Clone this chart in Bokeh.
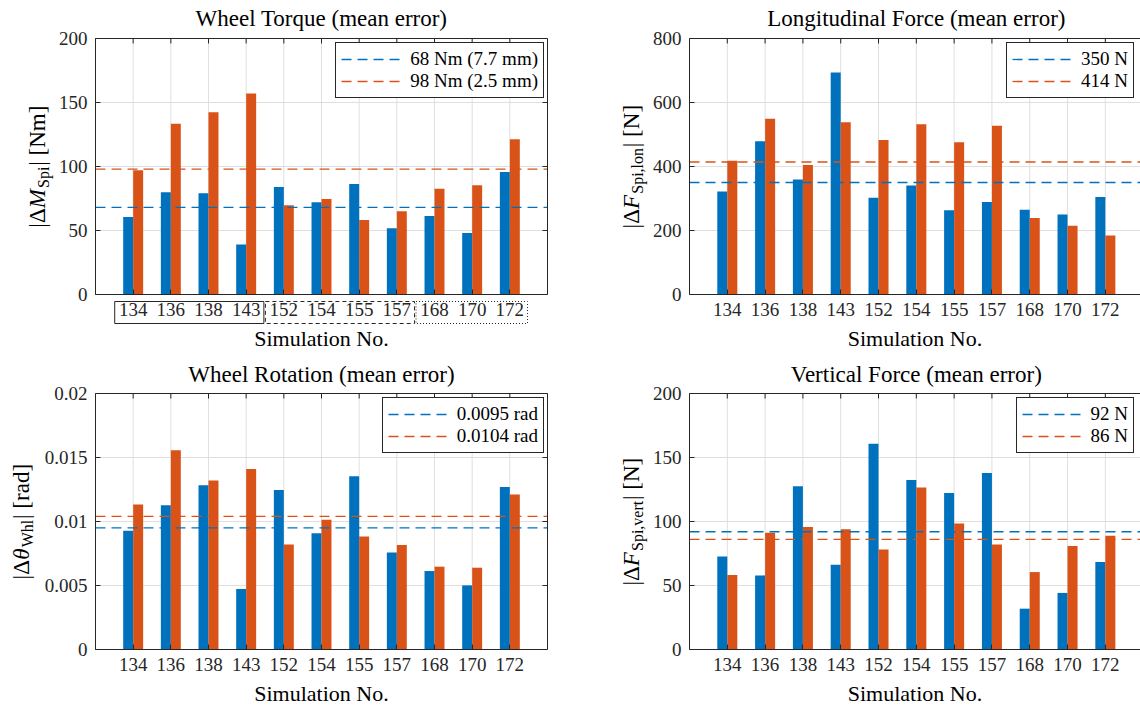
import numpy as np
from bokeh.plotting import figure
from bokeh.models import Range1d, FixedTicker, LinearAxis, Legend, LegendItem
from bokeh.core.properties import value
from bokeh.layouts import column, row
from bokeh.embed import file_html
from bokeh.resources import INLINE

# ---------------- data ----------------
sims = ["134", "136", "138", "143", "152", "154", "155", "157", "168", "170", "172"]

torque_blue = [60.6, 79.8, 79.1, 39.0, 84.0, 72.0, 86.3, 51.8, 61.4, 48.1, 95.7]
torque_orange = [97.0, 133.4, 142.3, 157.1, 69.7, 74.6, 58.3, 65.0, 82.7, 85.3, 121.2]
torque_means = [68, 98]
torque_legend = ["68 Nm (7.7 mm)", "98 Nm (2.5 mm)"]
torque_yticks = [0, 50, 100, 150, 200]

lon_blue = [322, 479, 359, 694, 302, 341, 263, 289, 265, 250, 305]
lon_orange = [418, 549, 405, 538, 483, 532, 476, 527, 239, 215, 184]
lon_means = [350, 414]
lon_legend = ["350 N", "414 N"]
lon_yticks = [0, 200, 400, 600, 800]

rot_blue = [0.00927, 0.01127, 0.01283, 0.00473, 0.01247, 0.00909, 0.01353,
            0.00758, 0.00613, 0.00501, 0.0127]
rot_orange = [0.01132, 0.01556, 0.0132, 0.0141, 0.00821, 0.01013, 0.00883,
              0.00816, 0.00647, 0.00639, 0.0121]
rot_means = [0.0095, 0.0104]
rot_legend = ["0.0095 rad", "0.0104 rad"]
rot_yticks = [0, 0.005, 0.01, 0.015, 0.02]
rot_yticklabels = ["0", "0.005", "0.01", "0.015", "0.02"]

vert_blue = [72.7, 57.9, 127.5, 66.2, 160.8, 132.5, 122.3, 137.9, 31.9, 44.2, 68.3]
vert_orange = [58.2, 91.2, 95.8, 94.0, 78.2, 126.5, 98.4, 82.1, 60.5, 80.8, 88.8]
vert_means = [92, 86]
vert_legend = ["92 N", "86 N"]
vert_yticks = [0, 50, 100, 150, 200]

# groups of simulations boxed under the first panel (first idx, last idx, dash)
groups = [(0, 3, "solid"), (4, 7, "4 3"), (8, 10, "1 2")]

ylab_torque = [("|Δ", "up"), ("M", "it"), ("Spi", "sub"), ("| [Nm]", "up")]
ylab_lon = [("|Δ", "up"), ("F", "it"), ("Spi,lon", "sub"), ("| [N]", "up")]
ylab_rot = [("|Δ", "up"), ("θ", "it"), ("Whl", "sub"), ("| [rad]", "up")]
ylab_vert = [("|Δ", "up"), ("F", "it"), ("Spi,vert", "sub"), ("| [N]", "up")]

# ---------------- style ----------------
BLUE = "#0072BD"
ORANGE = "#D95319"
AX = "#262626"
GRID = "#dfdfdf"
FONT = "Liberation Serif"
FH = 256

# approximate advance widths (em) of Liberation Serif
EM = {'|': 0.200, 'Δ': 0.612, ' ': 0.25, '[': 0.333, ']': 0.333, 'N': 0.722,
      'm': 0.778, 'r': 0.333, 'a': 0.444, 'd': 0.5, 'S': 0.556, 'p': 0.5,
      'i': 0.278, ',': 0.25, 'l': 0.278, 'o': 0.5, 'n': 0.5, 'v': 0.5,
      'e': 0.444, 't': 0.278, 'W': 0.944, 'h': 0.5, 'M': 0.833, 'F': 0.611,
      'θ': 0.5, '(': 0.333, ')': 0.333, '.': 0.25}


def tw(s, size):
    return sum(EM.get(c, 0.5) for c in s) * size


def panel(title, blue, orange, means, leg, yticks, ylab, fw, ext, br, top_px, below_px,
          x_end, base_px, title_px, leg_right, yticklabels=None, boxes=None):
    """The frame covers the whole canvas (except a right border on the left
    panels); the axes are fixed at x=0 / y=y0 so that tick labels, titles and
    the composite y-axis title all live inside it."""
    y0, y1 = yticks[0], yticks[-1]
    u = x_end / fw                 # data units per pixel (x)
    ky = (y1 - y0) / FH            # data units per pixel (y)
    H = top_px + FH + below_px
    p = figure(frame_width=ext + fw, frame_height=H,
               min_border_left=0, min_border_right=br,
               min_border_top=0, min_border_bottom=0,
               x_range=Range1d(-ext * u, x_end),
               y_range=Range1d(y0 - below_px * ky, y1 + top_px * ky),
               output_backend="svg", toolbar_location=None)
    p.background_fill_color = "white"
    p.border_fill_color = "white"
    p.outline_line_color = None
    p.grid.visible = False

    idx = np.arange(1, len(sims) + 1)
    n = len(idx)
    xt = FixedTicker(ticks=list(idx))
    yt = FixedTicker(ticks=yticks)

    # grid lines, limited to the axes box
    p.segment(x0=idx, y0=[y0] * n, x1=idx, y1=[y1] * n, line_color=GRID, line_width=1)
    p.segment(x0=[0] * len(yticks), y0=yticks, x1=[x_end] * len(yticks), y1=yticks,
              line_color=GRID, line_width=1)

    p.vbar(x=idx - 0.1325, width=0.265, top=blue, fill_color=BLUE, line_color=None)
    p.vbar(x=idx + 0.1325, width=0.265, top=orange, fill_color=ORANGE, line_color=None)

    r1 = p.line(x=[0, x_end], y=[means[0], means[0]], line_color=BLUE, line_dash="10 6",
                line_width=1.3)
    r2 = p.line(x=[0, x_end], y=[means[1], means[1]], line_color=ORANGE, line_dash="10 6",
                line_width=1.3)

    # top edge of the axes box with its inward ticks
    p.segment(x0=[0], y0=[y1], x1=[x_end], y1=[y1], line_color=AX, line_width=1)
    p.segment(x0=idx, y0=[y1] * n, x1=idx, y1=[y1 - 5 * ky] * n,
              line_color=AX, line_width=1)

    lw = 2 * 5 + 62 + 7 + max(tw(s, 19) for s in leg)
    legend = Legend(items=[LegendItem(label=leg[0], renderers=[r1]),
                           LegendItem(label=leg[1], renderers=[r2])],
                    location=(leg_right - lw, H - top_px - 5 - 55),
                    border_line_color=AX, border_line_width=1,
                    border_line_alpha=1, background_fill_color="white",
                    background_fill_alpha=1, label_text_font=FONT,
                    label_text_font_size="19px", label_text_color="#000000",
                    glyph_width=62, glyph_height=20, label_height=20,
                    label_standoff=7, padding=5, spacing=0, margin=0)
    p.add_layout(legend)

    p.xaxis.ticker = xt
    p.yaxis.ticker = yt
    p.xaxis.major_label_overrides = {int(i): s for i, s in zip(idx, sims)}
    if yticklabels:
        p.yaxis.major_label_overrides = {v: s for v, s in zip(yticks, yticklabels)}
    for ax in (p.xaxis[0], p.yaxis[0]):
        ax.axis_line_color = AX
        ax.major_tick_line_color = AX
        ax.major_tick_in = 5
        ax.major_tick_out = 0
        ax.minor_tick_line_color = None
        ax.major_label_text_font = FONT
        ax.major_label_text_font_size = "19px"
        ax.major_label_text_color = AX
    p.yaxis.fixed_location = 0
    p.yaxis.bounds = (y0, y1)
    p.xaxis.fixed_location = y0
    p.xaxis.bounds = (0, x_end)
    p.xaxis.major_label_standoff = 8
    p.yaxis.major_label_standoff = 8
    p.xaxis.axis_label = "Simulation No."
    p.xaxis.axis_label_text_font = FONT
    p.xaxis.axis_label_text_font_style = "normal"
    p.xaxis.axis_label_text_font_size = "22px"
    p.xaxis.axis_label_text_color = "#000000"
    p.xaxis.axis_label_standoff = 7

    if br > 20:
        ra = LinearAxis(ticker=yt, bounds=(y0, y1),
                        major_label_overrides={v: "" for v in yticks},
                        major_tick_in=5, major_tick_out=0, major_label_standoff=0,
                        minor_tick_line_color=None, axis_line_color=AX,
                        major_tick_line_color=AX)
        p.add_layout(ra, "right")

    # panel title, centred over the axes box
    p.text(x=[6], y=[y1 + title_px * ky], text=[title], text_align="center",
           text_baseline="alphabetic", text_font=value(FONT),
           text_font_size=value("23px"), text_color="#000000")

    # y-axis title: upright / italic symbol / subscript pieces along a rotated line
    size, subsize, subshift = 23, 16, 4
    widths = []
    for t, k in ylab:
        wd = tw(t, subsize if k == "sub" else size)
        wd += 1.5 if k == "sub" else (0.8 if k == "it" else 0)
        widths.append(wd)
    ypx = -sum(widths) / 2
    yc = (y0 + y1) / 2
    for (t, k), wd in zip(ylab, widths):
        fs = subsize if k == "sub" else size
        xm_px = -base_px + (subshift if k == "sub" else 0) - 0.3 * fs
        p.text(x=[xm_px * u], y=[yc + (ypx + wd / 2) * ky], text=[t],
               angle=np.pi / 2, text_align="center", text_baseline="middle",
               text_font=value(FONT),
               text_font_style=value("italic" if k == "it" else "normal"),
               text_font_size=value(f"{fs}px"), text_color="#000000")
        ypx += wd

    if boxes:
        for a, b, dash in boxes:
            p.quad(left=[a + 1 - 0.49], right=[b + 1 + 0.47], top=[y0 - 7 * ky],
                   bottom=[y0 - 29 * ky], fill_alpha=0, line_color=AX, line_width=1,
                   line_dash=dash)
    return p


# ---------------- top row (height 353) ----------------
tl = panel("Wheel Torque (mean error)", torque_blue, torque_orange, torque_means,
           torque_legend, torque_yticks, ylab_torque, 452, 95, 53, 38, 59, 12, 51,
           20, 542, boxes=groups)
tr = panel("Longitudinal Force (mean error)", lon_blue, lon_orange, lon_means,
           lon_legend, lon_yticks, ylab_lon, 451, 89, 0, 38, 59, 11.93, 51.5,
           20, 532)

# ---------------- bottom row (height 358) ----------------
bl = panel("Wheel Rotation (mean error)", rot_blue, rot_orange, rot_means,
           rot_legend, rot_yticks, ylab_rot, 452, 95, 53, 40, 62, 12, 67.5,
           19, 542, yticklabels=rot_yticklabels)
br = panel("Vertical Force (mean error)", vert_blue, vert_orange, vert_means,
           vert_legend, vert_yticks, ylab_vert, 451, 89, 0, 40, 62, 11.93, 51.5,
           19, 532)

layout = column(row(tl, tr), row(bl, br))
open("out.html", "w").write(file_html(layout, INLINE))
